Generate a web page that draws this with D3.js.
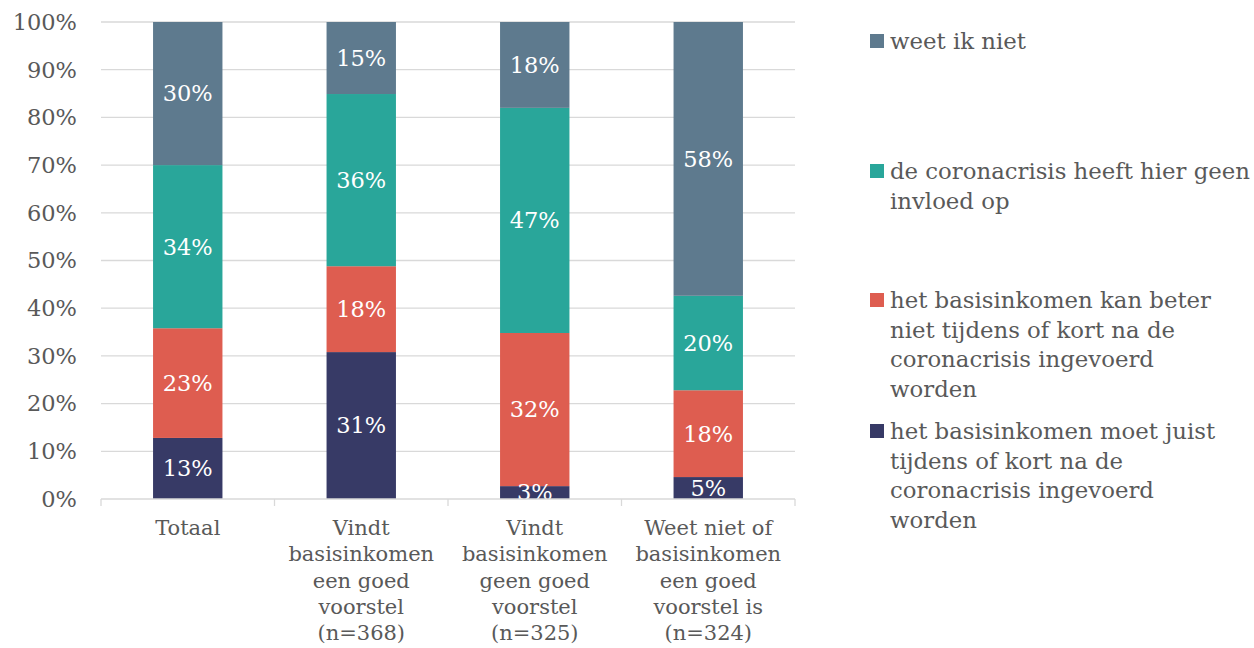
<!DOCTYPE html>
<html><head><meta charset="utf-8">
<script src="https://cdn.jsdelivr.net/npm/d3@7/dist/d3.min.js"></script>
<style>body{margin:0;background:#fff}svg{display:block}</style>
</head><body><svg id="c" width="1254" height="648"></svg>
<script>
const categories = [
  ["Totaal"],
  ["Vindt","basisinkomen","een goed","voorstel","(n=368)"],
  ["Vindt","basisinkomen","geen goed","voorstel","(n=325)"],
  ["Weet niet of","basisinkomen","een goed","voorstel is","(n=324)"]
];
const seriesNames = [
  "het basisinkomen moet juist tijdens of kort na de coronacrisis ingevoerd worden",
  "het basisinkomen kan beter niet tijdens of kort na de coronacrisis ingevoerd worden",
  "de coronacrisis heeft hier geen invloed op",
  "weet ik niet"
];
const moetJuist   = [12.8, 30.8, 2.7, 4.6];
const kanBeter    = [23.0, 18.0, 32.1, 18.2];
const geenInvloed = [34.2, 36.1, 47.2, 19.8];
const weetNiet    = [30.0, 15.1, 18.0, 57.5];
const yTicks = [0,10,20,30,40,50,60,70,80,90,100];
const legendLines = [
  ["weet ik niet"],
  ["de coronacrisis heeft hier geen","invloed op"],
  ["het basisinkomen kan beter","niet tijdens of kort na de","coronacrisis ingevoerd","worden"],
  ["het basisinkomen moet juist","tijdens of kort na de","coronacrisis ingevoerd","worden"]
];
const colors = ["#373a66","#de5d50","#29a69a","#5e7a8e"];

const font = "'DejaVu Serif', serif";
const textCol = "#595959";
const svg = d3.select("#c");
const L = 101, R = 795, T = 22, B = 499;
const series = [moetJuist, kanBeter, geenInvloed, weetNiet];
const x = d3.scaleBand().domain(d3.range(categories.length)).range([L, R]).paddingInner(0.6).paddingOuter(0.3);
const xb = d3.scaleBand().domain(d3.range(categories.length)).range([L, R]);
const y = d3.scaleLinear().domain([0, 100]).range([B, T]).clamp(true);

svg.append("g").selectAll("line").data(yTicks.filter(d=>d>0)).join("line")
  .attr("x1", L).attr("x2", R).attr("y1", d=>y(d)).attr("y2", d=>y(d))
  .attr("stroke", "#d9d9d9").attr("stroke-width", 1.3);

svg.append("g").selectAll("text").data(yTicks).join("text")
  .attr("x", 77).attr("y", d=>y(d)).attr("dy", "0.35em")
  .attr("text-anchor", "end").attr("font-family", font).attr("font-size", 22.5)
  .attr("fill", textCol).text(d=>d+"%");

svg.append("clipPath").attr("id","plot").append("rect").attr("x",L).attr("y",T).attr("width",R-L).attr("height",B-T);

const rows = categories.map((c,i)=>{ const o={i}; series.forEach((s,k)=>o[k]=s[i]); return o; });
const stack = d3.stack().keys(d3.range(series.length))(rows);
const gBars = svg.append("g");
stack.forEach((layer,k)=>{
  gBars.selectAll(null).data(layer).join("rect")
    .attr("x", d=>x(d.data.i)).attr("width", x.bandwidth())
    .attr("y", d=>y(d[1])).attr("height", d=>y(d[0])-y(d[1]))
    .attr("fill", colors[k]);
});
const gLab = svg.append("g").attr("clip-path","url(#plot)");
stack.forEach((layer,k)=>{
  gLab.selectAll(null).data(layer).join("text")
    .attr("x", d=>x(d.data.i)+x.bandwidth()/2)
    .attr("y", d=>(y(d[0])+y(d[1]))/2).attr("dy","0.35em")
    .attr("text-anchor","middle").attr("font-family",font).attr("font-size",22.5)
    .attr("fill","#fff").text(d=>d3.format(".0f")(d[1]-d[0])+"%");
});

svg.append("line").attr("x1",L).attr("x2",R).attr("y1",B).attr("y2",B).attr("stroke","#d9d9d9").attr("stroke-width",1.3);
const tickXs = xb.domain().map(i=>xb(i)).concat([R]);
svg.append("g").selectAll("line").data(tickXs).join("line")
  .attr("x1",d=>d).attr("x2",d=>d).attr("y1",B).attr("y2",B+7).attr("stroke","#d9d9d9").attr("stroke-width",1.3);

categories.forEach((lines,i)=>{
  const t = svg.append("text").attr("text-anchor","middle").attr("font-family",font)
    .attr("font-size",21).attr("fill",textCol);
  lines.forEach((ln,j)=>t.append("tspan").attr("x", xb(i)+xb.bandwidth()/2).attr("y", 535+j*26.3).text(ln));
});

const legTop = [49, 179, 308, 439];
const legOrder = [3,2,1,0];
legOrder.forEach((k,idx)=>{
  const y0 = legTop[idx];
  svg.append("rect").attr("x",870).attr("y",y0-15).attr("width",14).attr("height",14).attr("fill",colors[k]);
  const t = svg.append("text").attr("font-family",font).attr("font-size",22.8).attr("fill",textCol);
  legendLines[idx].forEach((ln,j)=>t.append("tspan").attr("x",890).attr("y",y0+j*29.6).text(ln));
});
</script></body></html>
